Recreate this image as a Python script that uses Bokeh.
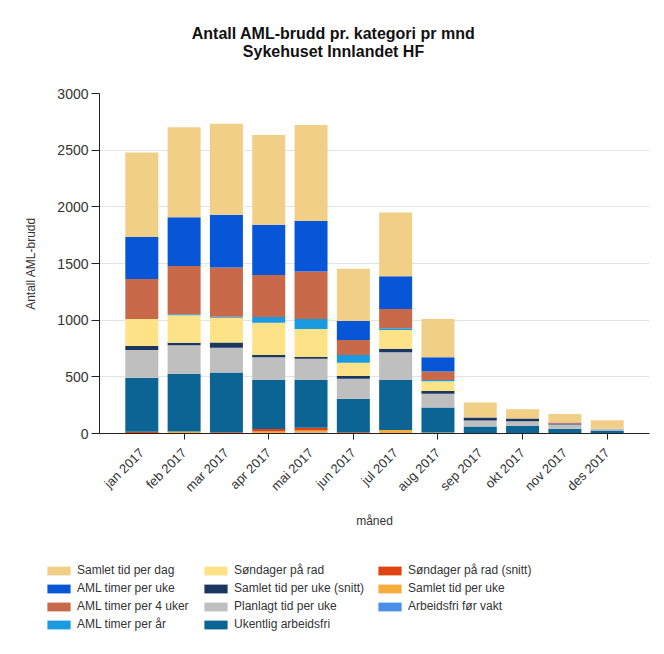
from math import pi
from bokeh.plotting import figure
from bokeh.layouts import column, row
from bokeh.models import (ColumnDataSource, Legend, LegendItem, Label, FixedTicker, Range1d)
from bokeh.embed import file_html
from bokeh.resources import INLINE

title_lines = ["Antall AML-brudd pr. kategori pr mnd", "Sykehuset Innlandet HF"]

months = ["jan 2017", "feb 2017", "mar 2017", "apr 2017", "mai 2017", "jun 2017",
          "jul 2017", "aug 2017", "sep 2017", "okt 2017", "nov 2017", "des 2017"]

# series, stacked bottom -> top
arbeidsfri_for_vakt = [0, 0, 0, 0, 8, 0, 0, 0, 0, 0, 0, 0]
samlet_tid_per_uke = [0, 18, 0, 18, 18, 0, 30, 8, 0, 0, 0, 0]
sondager_pa_rad_snitt = [15, 0, 12, 22, 25, 12, 0, 0, 0, 0, 0, 0]
ukentlig_arbeidsfri = [477, 509, 527, 431, 420, 294, 441, 222, 62, 67, 41, 27]
planlagt_tid_per_uke = [245, 251, 218, 201, 189, 177, 245, 120, 53, 42, 39, 17]
samlet_tid_per_uke_snitt = [35, 23, 47, 20, 14, 24, 32, 24, 26, 24, 8, 0]
sondager_pa_rad = [238, 242, 218, 286, 248, 117, 165, 86, 0, 0, 0, 0]
aml_timer_per_ar = [0, 9, 9, 50, 88, 68, 15, 11, 0, 0, 0, 0]
aml_timer_per_4_uker = [354, 427, 433, 371, 419, 133, 171, 77, 0, 0, 8, 0]
aml_timer_per_uke = [369, 430, 466, 442, 445, 168, 289, 124, 0, 0, 0, 0]
samlet_tid_per_dag = [747, 793, 804, 793, 848, 460, 562, 338, 133, 82, 75, 74]

names = ["Arbeidsfri før vakt", "Samlet tid per uke", "Søndager på rad (snitt)",
         "Ukentlig arbeidsfri", "Planlagt tid per uke", "Samlet tid per uke (snitt)",
         "Søndager på rad", "AML timer per år", "AML timer per 4 uker",
         "AML timer per uke", "Samlet tid per dag"]
values = [arbeidsfri_for_vakt, samlet_tid_per_uke, sondager_pa_rad_snitt,
          ukentlig_arbeidsfri, planlagt_tid_per_uke, samlet_tid_per_uke_snitt,
          sondager_pa_rad, aml_timer_per_ar, aml_timer_per_4_uker,
          aml_timer_per_uke, samlet_tid_per_dag]
colors = ["#4a8fe7", "#f6ad3c", "#dd4411", "#0b6494", "#bfbfbf", "#1b365f",
          "#fde287", "#1a9ae0", "#c8694a", "#0756d8", "#f2cf87"]

y_ticks = [0, 500, 1000, 1500, 2000, 2500, 3000]

FONT = "Liberation Sans"
TXT = "#333333"
W = 656

# ---------------- header (title) ----------------
HEAD_H = 60
head = figure(width=W, height=HEAD_H, output_backend="svg", toolbar_location=None,
              x_axis_location=None, y_axis_location=None, min_border=0,
              x_range=Range1d(0, W), y_range=Range1d(HEAD_H, 0))
head.outline_line_color = None
head.xgrid.visible = False
head.ygrid.visible = False
for txt, yy in zip(title_lines, [33, 51]):
    head.add_layout(Label(x=333, y=yy, text=txt, text_align="center",
                          text_baseline="alphabetic", text_font=FONT,
                          text_font_size="16px", text_font_style="bold",
                          text_color="#111111"))

# ---------------- main chart ----------------
x = list(range(1, len(months) + 1))
keys = [f"s{i}" for i in range(len(names))]
data = {"x": x}
for k, v in zip(keys, values):
    data[k] = v
src = ColumnDataSource(data)

p = figure(width=W, height=494, output_backend="svg", toolbar_location=None,
           x_range=Range1d(0, len(months) + 1), y_range=Range1d(y_ticks[0], y_ticks[-1]),
           min_border_left=99, min_border_right=7, min_border_top=33,
           min_border_bottom=121)
p.outline_line_color = None

renderers = p.vbar_stack(keys, x="x", width=0.78, fill_color=colors, line_color=None,
                         source=src)

p.xgrid.grid_line_color = None
p.ygrid.grid_line_color = "#e3e3e3"

p.yaxis.ticker = FixedTicker(ticks=y_ticks)
p.yaxis.axis_label = "Antall AML-brudd"
p.yaxis.axis_label_text_font = FONT
p.yaxis.axis_label_text_font_size = "12px"
p.yaxis.axis_label_text_font_style = "normal"
p.yaxis.axis_label_text_color = TXT
p.yaxis.axis_label_standoff = 16
p.yaxis.major_label_text_font = FONT
p.yaxis.major_label_text_font_size = "14px"
p.yaxis.major_label_text_color = TXT
p.yaxis.major_tick_out = 8
p.yaxis.major_tick_in = 0
p.yaxis.minor_tick_line_color = None
p.yaxis.major_label_standoff = 3
p.yaxis.axis_line_color = "#222222"
p.yaxis.major_tick_line_color = "#222222"

p.xaxis.ticker = FixedTicker(ticks=x, minor_ticks=x[1::2])
p.xaxis.major_label_overrides = {i: m for i, m in zip(x, months)}
p.xaxis.major_label_orientation = pi / 4
p.xaxis.major_label_text_font = FONT
p.xaxis.major_label_text_font_size = "13px"
p.xaxis.major_label_text_color = TXT
p.xaxis.major_tick_line_color = None
p.xaxis.major_tick_out = 0
p.xaxis.major_tick_in = 0
p.xaxis.minor_tick_out = 6
p.xaxis.minor_tick_in = 0
p.xaxis.minor_tick_line_color = "#222222"
p.xaxis.major_label_standoff = 11
p.xaxis.axis_line_color = "#222222"
p.xaxis.axis_label = "måned"
p.xaxis.axis_label_text_font = FONT
p.xaxis.axis_label_text_font_size = "12px"
p.xaxis.axis_label_text_font_style = "normal"
p.xaxis.axis_label_text_color = TXT
p.xaxis.axis_label_standoff = 11

# ---------------- legend ----------------
LEG_H = 90
leg = figure(width=W, height=LEG_H, output_backend="svg", toolbar_location=None,
             x_axis_location=None, y_axis_location=None, min_border=0,
             x_range=Range1d(0, 1), y_range=Range1d(0, 1))
leg.outline_line_color = None
leg.xgrid.visible = False
leg.ygrid.visible = False
proxies = [leg.vbar(x=[-100], top=[0], bottom=[0], width=1, fill_color=c,
                    line_color=None) for c in colors]

columns = [[10, 9, 8, 7], [6, 5, 4, 3], [2, 1, 0]]
locs = [(44, 11), (201, 11), (375, 29)]
for col, loc in zip(columns, locs):
    items = [LegendItem(label=names[i], renderers=[proxies[i]]) for i in col]
    lg = Legend(items=items, location=loc, orientation="vertical", padding=0, margin=0,
                spacing=0, border_line_color=None, background_fill_alpha=0,
                label_text_font=FONT, label_text_font_size="12px",
                label_text_color=TXT, glyph_width=29, glyph_height=11,
                label_height=18, label_standoff=4)
    leg.add_layout(lg, "center")

layout = column(row(head), p, row(leg), spacing=0)
open("out.html", "w").write(file_html(layout, INLINE))
